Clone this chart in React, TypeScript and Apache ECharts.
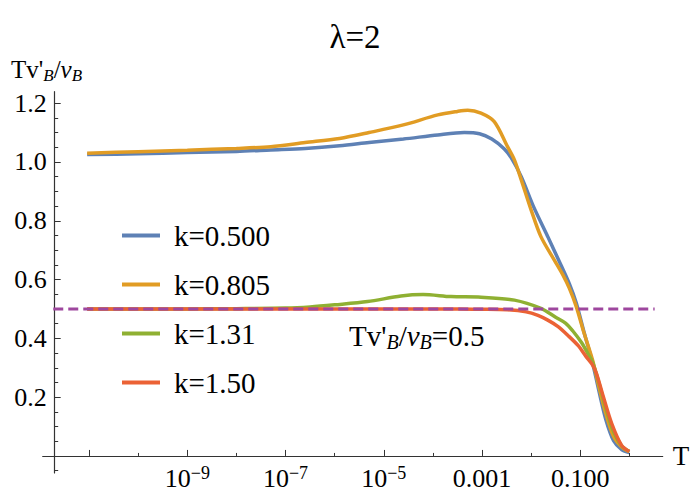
import React, { useEffect, useRef } from "react";
import * as echarts from "echarts";

const FONT = "Liberation Serif";

const seriesNames = ["k=0.500", "k=0.805", "k=1.31", "k=1.50"];
const seriesColors = ["#5E81B5", "#E19C24", "#8FB032", "#EB6235"];
const refColor = "#9E479E";

// x = log10(T)
const blueLogT = [-11.04, -10, -9, -8, -7.3, -6.6, -5.9, -5.3, -4.6, -3.9, -3.36, -3.05, -2.8, -2.55, -2.4, -2.2, -1.95, -1.66, -1.4, -1.22, -1.08, -0.92, -0.75, -0.62, -0.48, -0.32, -0.15, 0];
const blueVals = [1.025, 1.028, 1.032, 1.036, 1.041, 1.046, 1.055, 1.066, 1.078, 1.092, 1.1, 1.096, 1.078, 1.045, 1.013, 0.95, 0.848, 0.746, 0.652, 0.585, 0.52, 0.42, 0.318, 0.222, 0.125, 0.052, 0.021, 0.012];

const orangeLogT = [-11.04, -10, -9, -8, -7.3, -6.6, -5.9, -5.3, -4.6, -3.9, -3.5, -3.29, -3.02, -2.75, -2.48, -2.34, -2.2, -2.0, -1.8, -1.53, -1.35, -1.22, -1.08, -0.92, -0.75, -0.62, -0.48, -0.32, -0.15, 0];
const orangeVals = [1.03, 1.035, 1.04, 1.046, 1.052, 1.066, 1.08, 1.1, 1.126, 1.16, 1.172, 1.176, 1.166, 1.137, 1.052, 1.007, 0.939, 0.837, 0.746, 0.667, 0.615, 0.57, 0.508, 0.417, 0.327, 0.236, 0.145, 0.066, 0.03, 0.015];

const greenLogT = [-11.04, -9, -8, -7, -6.5, -6.0, -5.33, -4.65, -4.2, -3.63, -3.02, -2.34, -1.8, -1.5, -1.3, -1.15, -0.97, -0.85, -0.75, -0.62, -0.5, -0.35, -0.16, 0];
const greenVals = [0.5, 0.5, 0.501, 0.503, 0.507, 0.514, 0.525, 0.544, 0.549, 0.542, 0.54, 0.53, 0.502, 0.472, 0.452, 0.425, 0.385, 0.35, 0.32, 0.25, 0.175, 0.095, 0.035, 0.015];

const redLogT = [-11.04, -8, -5, -3.5, -3.02, -2.48, -2.1, -1.86, -1.66, -1.45, -1.25, -1.04, -0.88, -0.75, -0.67, -0.53, -0.36, -0.16, 0];
const redVals = [0.5, 0.5, 0.5, 0.5, 0.499, 0.497, 0.49, 0.478, 0.462, 0.44, 0.41, 0.375, 0.338, 0.31, 0.281, 0.202, 0.111, 0.037, 0.015];

const refLogT = [-11.73, 0.516];
const refVals = [0.5, 0.5];

const xMajorTicks = [-11, -9, -7, -5, -3, -1];
const xMinorTicks = [-10, -8, -6, -4, -2, 0];
const xLabelTicks = [-9, -7, -5, -3, -1];
const xTickLabels = ["10^−9", "10^−7", "10^−5", "0.001", "0.100"];

const yMajorTicks = [0, 0.2, 0.4, 0.6, 0.8, 1.0, 1.2];
const yLabelTicks = [0.2, 0.4, 0.6, 0.8, 1.0, 1.2];
const yTickLabels = ["0.2", "0.4", "0.6", "0.8", "1.0", "1.2"];
const yMinorTicks = [-0.05, 0.05, 0.1, 0.15, 0.25, 0.3, 0.35, 0.45, 0.5, 0.55, 0.65, 0.7, 0.75, 0.85, 0.9, 0.95, 1.05, 1.1, 1.15];

const pairs = (xs: number[], ys: number[]) => xs.map((x, i) => [x, ys[i]]);

const curves = [
  { x: blueLogT, y: blueVals },
  { x: orangeLogT, y: orangeVals },
  { x: greenLogT, y: greenVals },
  { x: redLogT, y: redVals },
];

const X_MIN = -11.945;
const X_MAX = 0.68;
const Y_MIN = -0.058;
const Y_MAX = 1.239;

function xLabelFormatter(v: number) {
  const i = xLabelTicks.findIndex((t) => Math.abs(t - v) < 1e-6);
  if (i < 0) return "";
  const s = xTickLabels[i];
  if (s.indexOf("^") >= 0) {
    const [b, e] = s.split("^");
    return `{m|${b}}{s|${e}}`;
  }
  return `{m|${s}}`;
}

function yLabelFormatter(v: number) {
  const i = yLabelTicks.findIndex((t) => Math.abs(t - v) < 1e-6);
  return i < 0 ? "" : yTickLabels[i];
}

export default function App() {
  const ref = useRef<HTMLDivElement>(null);
  useEffect(() => {
    if (!ref.current) return;
    const chart = echarts.init(ref.current, null, { renderer: "svg" });
    const axisColor = "#333";
    const subRich = (color: string, fs: number) => ({
      n: { fontFamily: FONT, fontSize: fs, color, lineHeight: fs + 1, verticalAlign: "top" },
      i: { fontFamily: FONT, fontSize: fs, fontStyle: "italic", color, lineHeight: fs + 1, verticalAlign: "top" },
      b: {
        fontFamily: FONT,
        fontSize: Math.round(fs * 0.68),
        fontStyle: "italic",
        color,
        lineHeight: Math.round(fs * 0.64),
        verticalAlign: "top",
        padding: [fs + 1 - Math.round(fs * 0.64), 0, 0, 0],
      },
    });
    const option: any = {
      animation: false,
      backgroundColor: "#fff",
      textStyle: { fontFamily: FONT },
      grid: {
        left: 42.7,
        right: 29.3,
        top: 91.7,
        bottom: 18,
        containLabel: false,
        outerBoundsMode: "none",
      },
      title: {
        text: "λ=2",
        left: 350,
        textAlign: "center",
        top: 15,
        textStyle: { fontFamily: FONT, fontSize: 33, fontWeight: "normal", color: "#000" },
      },
      legend: {
        data: seriesNames,
        orient: "vertical",
        left: 122,
        top: 221,
        padding: 0,
        itemGap: 20,
        itemWidth: 38,
        itemHeight: 4,
        icon: "rect",
        textStyle: {
          fontFamily: FONT,
          fontSize: 29,
          color: "#000",
          padding: [0, 0, 0, 9],
        },
      },
      xAxis: [
        {
          type: "value",
          min: X_MIN,
          max: X_MAX,
          position: "bottom",
          axisLine: { show: true, onZero: true, lineStyle: { color: axisColor, width: 1.2 } },
          axisTick: { show: true, inside: true, length: 6, customValues: xMajorTicks, lineStyle: { color: axisColor } },
          axisLabel: {
            show: true,
            customValues: xLabelTicks,
            formatter: xLabelFormatter,
            margin: -9,
            fontFamily: FONT,
            rich: {
              m: { fontFamily: FONT, fontSize: 26, color: "#000", lineHeight: 28 },
              s: { fontFamily: FONT, fontSize: 18, color: "#000", lineHeight: 18, padding: [0, 0, 10, 0] },
            },
          },
          splitLine: { show: false },
          name: "T",
          nameLocation: "end",
          nameGap: 10,
          nameTextStyle: { fontFamily: FONT, fontSize: 27, color: "#000" },
        },
        {
          type: "value",
          min: X_MIN,
          max: X_MAX,
          position: "bottom",
          axisLine: { show: false, onZero: true },
          axisTick: { show: true, inside: true, length: 3, customValues: xMinorTicks, lineStyle: { color: axisColor } },
          axisLabel: { show: false },
          splitLine: { show: false },
        },
      ],
      yAxis: [
        {
          type: "value",
          min: Y_MIN,
          max: Y_MAX,
          offset: -12,
          axisLine: { show: true, onZero: false, lineStyle: { color: axisColor, width: 1.2 } },
          axisTick: { show: true, inside: true, length: 6, customValues: yMajorTicks, lineStyle: { color: axisColor } },
          axisLabel: {
            show: true,
            customValues: yLabelTicks,
            formatter: yLabelFormatter,
            margin: 8,
            fontFamily: FONT,
            fontSize: 26,
            color: "#000",
          },
          splitLine: { show: false },
        },
        {
          type: "value",
          min: Y_MIN,
          max: Y_MAX,
          offset: -12,
          position: "left",
          axisLine: { show: false, onZero: false },
          axisTick: { show: true, inside: true, length: 3.5, customValues: yMinorTicks, lineStyle: { color: axisColor } },
          axisLabel: { show: false },
          splitLine: { show: false },
        },
      ],
      series: [
        ...curves.map((c, i) => ({
          name: seriesNames[i],
          type: "line",
          xAxisIndex: 0,
          yAxisIndex: 0,
          data: pairs(c.x, c.y),
          showSymbol: false,
          symbol: "none",
          smooth: 0.3,
          lineStyle: { color: seriesColors[i], width: 3.5 },
          itemStyle: { color: seriesColors[i] },
          z: 2 + i,
        })),
        {
          name: "ref",
          type: "line",
          xAxisIndex: 0,
          yAxisIndex: 0,
          data: pairs(refLogT, refVals),
          showSymbol: false,
          symbol: "none",
          lineStyle: { color: refColor, width: 3, type: [10, 5] },
          z: 10,
        },
      ],
      graphic: [
        {
          type: "text",
          left: 11,
          top: 57,
          style: {
            text: "{n|Tv'}{b|B}{n|/}{i|v}{b|B}",
            rich: subRich("#000", 25),
          },
        },
        {
          type: "text",
          left: 349,
          top: 321,
          style: {
            text: "{n|Tv'}{b|B}{n|/}{i|v}{b|B}{n|=0.5}",
            rich: subRich(refColor, 29),
          },
        },
      ],
    };
    chart.setOption(option);
    return () => chart.dispose();
  }, []);
  return (
    <div
      ref={ref}
      style={{ position: "fixed", left: 0, top: 0, width: 692, height: 491, background: "#fff" }}
    />
  );
}
